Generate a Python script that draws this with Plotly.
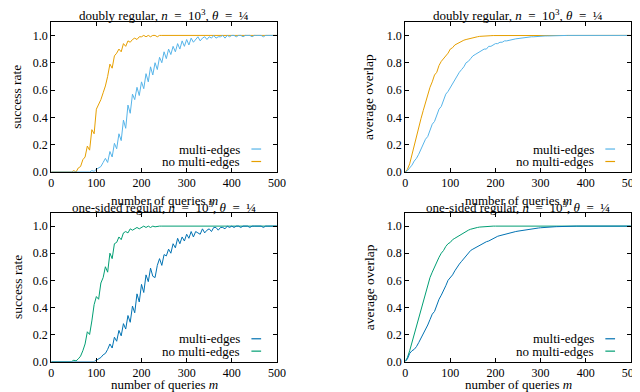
import plotly.graph_objects as go

# number of queries m (sampled every 5)
M = list(range(0, 501, 5))

# --- doubly regular: success rate ---
dr_succ_multi = (
    [0.0] * 15 +
    [0.0, 0.005, 0.0, 0.01, 0.005, 0.02, 0.03, 0.04, 0.07, 0.10, 0.07, 0.15, 0.11, 0.21, 0.17,
     0.28, 0.23, 0.38, 0.32, 0.49, 0.43, 0.57, 0.53, 0.62, 0.56, 0.66, 0.61, 0.72, 0.66, 0.77,
     0.71, 0.80, 0.75, 0.84, 0.80, 0.88, 0.83, 0.90, 0.86, 0.92, 0.88, 0.94, 0.90, 0.96, 0.92,
     0.97, 0.93, 0.98, 0.95, 0.97, 0.99, 0.96, 0.98, 0.99, 0.97, 0.99, 0.98, 1.0, 0.98, 0.99,
     0.99, 1.0, 0.98, 1.0, 0.99, 1.0, 1.0, 0.99, 1.0, 1.0, 0.99, 1.0, 1.0, 1.0, 0.99,
     1.0, 1.0, 1.0, 1.0, 0.99, 1.0] +
    [1.0] * 5
)
dr_succ_nomulti = (
    [0.0] * 9 +
    [0.0, 0.01, 0.0, 0.03, 0.04, 0.09, 0.11, 0.19, 0.16, 0.31, 0.28, 0.46, 0.49, 0.53, 0.58,
     0.63, 0.70, 0.79, 0.76, 0.85, 0.87, 0.90, 0.88, 0.94, 0.92, 0.96, 0.95, 0.97, 0.98, 0.97,
     0.99, 0.99, 1.0, 0.99, 1.0, 0.99, 1.0, 1.0, 0.99, 1.0] +
    [1.0] * 52
)

# --- doubly regular: average overlap ---
dr_ovl_multi = (
    [0.0, 0.01, 0.03, 0.05, 0.08, 0.10, 0.13, 0.17, 0.20, 0.24, 0.26, 0.31, 0.35, 0.37, 0.42,
     0.46, 0.48, 0.53, 0.57, 0.59, 0.62, 0.65, 0.68, 0.70, 0.73, 0.75, 0.77, 0.80, 0.81, 0.83,
     0.85, 0.86, 0.87, 0.88, 0.89, 0.90, 0.90, 0.92, 0.92, 0.93, 0.94, 0.94, 0.95, 0.95, 0.96,
     0.96, 0.965, 0.97, 0.97, 0.975, 0.977, 0.98, 0.982, 0.985, 0.986, 0.988, 0.99, 0.99, 0.992, 0.993,
     0.994, 0.995, 0.996, 0.996, 0.997, 0.997, 0.998, 0.998, 0.999, 0.999, 0.999] +
    [1.0] * 30
)
dr_ovl_nomulti = (
    [0.0, 0.02, 0.06, 0.13, 0.20, 0.26, 0.32, 0.39, 0.45, 0.51, 0.56, 0.62, 0.66, 0.71, 0.73,
     0.78, 0.81, 0.83, 0.85, 0.87, 0.90, 0.91, 0.93, 0.94, 0.95, 0.96, 0.965, 0.97, 0.975, 0.98,
     0.985, 0.99, 0.99, 0.993, 0.995, 0.996, 0.997, 0.998, 0.998, 0.999, 0.999] +
    [1.0] * 60
)

# --- one-sided regular: success rate ---
os_succ_multi = (
    [0.0] * 17 +
    [0.0, 0.005, 0.0, 0.01, 0.02, 0.03, 0.05, 0.06, 0.09, 0.13, 0.10, 0.18, 0.15, 0.23, 0.19,
     0.28, 0.24, 0.34, 0.29, 0.41, 0.36, 0.50, 0.44, 0.57, 0.51, 0.64, 0.59, 0.69, 0.63, 0.62,
     0.71, 0.76, 0.71, 0.79, 0.78, 0.83, 0.80, 0.87, 0.84, 0.91, 0.87, 0.92, 0.89, 0.94, 0.91,
     0.96, 0.92, 0.96, 0.95, 0.94, 0.98, 0.95, 0.97, 0.98, 0.96, 0.99, 0.99, 0.97, 0.99, 0.99,
     0.98, 1.0, 0.99, 1.0, 0.99, 1.0, 1.0, 0.99, 1.0, 1.0, 1.0, 0.99, 1.0, 1.0, 1.0,
     1.0, 1.0, 0.99, 1.0] +
    [1.0] * 5
)
os_succ_nomulti = (
    [0.0] * 9 +
    [0.0, 0.01, 0.005, 0.02, 0.04, 0.08, 0.13, 0.22, 0.20, 0.30, 0.42, 0.48, 0.46, 0.58, 0.62,
     0.70, 0.66, 0.80, 0.76, 0.87, 0.88, 0.92, 0.90, 0.95, 0.96, 0.95, 0.98, 0.97, 0.98, 0.99,
     0.98, 0.99, 1.0, 0.99, 1.0, 0.99, 1.0, 0.995, 1.0, 1.0] +
    [1.0] * 52
)

# --- one-sided regular: average overlap ---
os_ovl_multi = (
    [0.0, 0.02, 0.06, 0.08, 0.09, 0.11, 0.14, 0.17, 0.20, 0.24, 0.27, 0.31, 0.35, 0.37, 0.42,
     0.46, 0.49, 0.52, 0.56, 0.60, 0.62, 0.64, 0.67, 0.70, 0.72, 0.74, 0.76, 0.78, 0.80, 0.82,
     0.83, 0.84, 0.85, 0.86, 0.87, 0.88, 0.885, 0.89, 0.90, 0.91, 0.92, 0.925, 0.93, 0.935, 0.94,
     0.945, 0.95, 0.953, 0.956, 0.96, 0.963, 0.966, 0.97, 0.972, 0.975, 0.977, 0.98, 0.982, 0.984, 0.986,
     0.988, 0.99, 0.991, 0.992, 0.993, 0.994, 0.995, 0.996, 0.997, 0.997, 0.998, 0.998, 0.999, 0.999, 0.999] +
    [1.0] * 26
)
os_ovl_nomulti = (
    [0.0, 0.03, 0.08, 0.14, 0.20, 0.27, 0.34, 0.40, 0.46, 0.51, 0.57, 0.62, 0.66, 0.70, 0.73,
     0.77, 0.80, 0.82, 0.85, 0.87, 0.88, 0.90, 0.91, 0.92, 0.93, 0.945, 0.955, 0.965, 0.97, 0.977,
     0.983, 0.987, 0.99, 0.993, 0.995, 0.997, 0.998, 0.999, 0.999] +
    [1.0] * 62
)

for arr in [dr_succ_multi, dr_succ_nomulti, dr_ovl_multi, dr_ovl_nomulti,
            os_succ_multi, os_succ_nomulti, os_ovl_multi, os_ovl_nomulti]:
    assert len(arr) == len(M), len(arr)

Y_TICKS = [0.0, 0.2, 0.4, 0.6, 0.8, 1.0]
X_TICKS = [0, 100, 200, 300, 400, 500]

C_LBLUE = "#56B4E9"
C_ORANGE = "#E69F00"
C_DBLUE = "#0072B2"
C_GREEN = "#009E73"
FONT = "Liberation Serif"
FS = 13
FS_TICK = 12

W, H = 640, 392
# plot-area pixel boxes: (x0, x1, ytop, ybottom, xtitle_center_y)
boxes = {
    1: (41, 271, 14, 167, 196),
    2: (401.7, 631.7, 14, 167, 196),
    3: (41, 271, 208.3, 360, 383),
    4: (401.7, 631.7, 208.3, 360, 383),
}
title_y = {1: 7, 2: 7, 3: 203, 4: 203}

panels = [
    (1, dr_succ_nomulti, C_ORANGE, dr_succ_multi, C_LBLUE),
    (2, dr_ovl_nomulti, C_ORANGE, dr_ovl_multi, C_LBLUE),
    (3, os_succ_nomulti, C_GREEN, os_succ_multi, C_DBLUE),
    (4, os_ovl_nomulti, C_GREEN, os_ovl_multi, C_DBLUE),
]

fig = go.Figure()
layout = dict(width=W, height=H, margin=dict(l=0, r=0, t=0, b=0),
              paper_bgcolor="white", plot_bgcolor="white", showlegend=False,
              font=dict(family=FONT, size=FS, color="black"))
annotations = []
shapes = []

for k, nomulti, c_no, multi, c_multi in panels:
    sfx = "" if k == 1 else str(k)
    xa, ya = "x" + sfx, "y" + sfx
    fig.add_trace(go.Scatter(x=M, y=nomulti, mode="lines", line=dict(color=c_no, width=1),
                             xaxis=xa, yaxis=ya))
    fig.add_trace(go.Scatter(x=M, y=multi, mode="lines", line=dict(color=c_multi, width=1),
                             xaxis=xa, yaxis=ya))
    x0, x1, yt, yb, xty = boxes[k]
    axcommon = dict(showline=True, linecolor="black", linewidth=1, mirror="ticks",
                    ticks="inside", ticklen=4, tickcolor="black", showgrid=False,
                    zeroline=False, tickfont=dict(family=FONT, size=FS_TICK))
    layout["xaxis" + sfx] = dict(domain=[x0 / W, x1 / W], range=[0, 500], tickvals=X_TICKS,
                                 anchor=ya, **axcommon)
    layout["yaxis" + sfx] = dict(domain=[1 - yb / H, 1 - yt / H], range=[0, 1.1],
                                 tickvals=Y_TICKS, tickformat=".1f", anchor=xa, **axcommon)
    # legend (gnuplot style: text then sample on the right)
    for label, col, yd in [("multi-edges", c_multi, 0.153), ("no multi-edges", c_no, 0.070)]:
        annotations.append(dict(text=label, xref=xa + " domain", yref=ya + " domain",
                                x=0.845, y=yd, xanchor="right", yanchor="middle",
                                showarrow=False, font=dict(family=FONT, size=FS)))
        shapes.append(dict(type="line", xref=xa + " domain", yref=ya + " domain",
                           x0=0.887, x1=0.93, y0=yd, y1=yd, line=dict(color=col, width=1.2)))
    cx = (x0 + x1) / 2 / W
    cy = 1 - (yt + yb) / 2 / H
    ylabel = "success rate" if k in (1, 3) else "average overlap"
    ylx = 6 / W if k in (1, 3) else 365 / W
    annotations.append(dict(text=ylabel, xref="paper", yref="paper", x=ylx, y=cy,
                            textangle=-90, showarrow=False, xanchor="center", yanchor="middle",
                            font=dict(family=FONT, size=FS + 0.5)))
    annotations.append(dict(text="number of queries <i>m</i>", xref="paper", yref="paper",
                            x=cx, y=1 - xty / H, showarrow=False,
                            xanchor="center", yanchor="middle", font=dict(family=FONT, size=FS)))

# titles drawn last so they sit over the upper x-axis labels
SP = "\u2002"
for k in (1, 2, 3, 4):
    x0, x1, yt, yb, xty = boxes[k]
    cx = (x0 + x1) / 2 / W
    name = "doubly regular" if k in (1, 2) else "one-sided regular"
    annotations.append(dict(text=f"{name}, <i>n</i>{SP}={SP}10<sup>3</sup>, <i>θ</i>{SP}={SP}¼",
                            xref="paper", yref="paper", x=cx, y=1 - title_y[k] / H,
                            showarrow=False, xanchor="center", yanchor="middle",
                            font=dict(family=FONT, size=FS)))

layout["annotations"] = annotations
layout["shapes"] = shapes
fig.update_layout(**layout)
fig.write_html("out.html")
